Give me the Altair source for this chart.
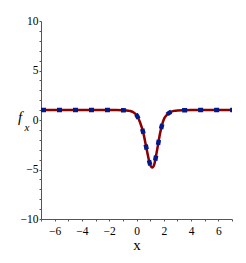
import altair as alt
import pandas as pd

xs = [-7, -6, -5, -4, -3, -2, -1.5, -1, -0.75, -0.5, -0.25, 0, 0.25, 0.5, 0.75,
      1.0, 1.15, 1.3, 1.5, 1.75, 2.0, 2.25, 2.5, 2.75, 3, 3.5, 4, 5, 6, 7]
fs = [1, 1, 1, 1, 1, 1, 1, 0.99, 0.97, 0.92, 0.8, 0.5, -0.2, -1.3, -3.0,
      -4.5, -4.8, -4.5, -3.1, -1.2, 0.05, 0.55, 0.8, 0.92, 0.97, 0.99, 1, 1, 1, 1]

x_ticks = list(range(-7, 8))
y_ticks = list(range(-10, 11))

df = pd.DataFrame({"x": xs, "f": fs})

xscale = alt.Scale(domain=[-7, 7], nice=False, zero=False)
yscale = alt.Scale(domain=[-10, 10], nice=False, zero=False)

axis_common = dict(
    grid=False, domainColor="#555555", tickColor="#555555", labelColor="black",
    labelFont="Liberation Serif", labelFontSize=11.5, titleFont="Liberation Serif",
    titleFontSize=15, titleFontWeight="normal", titleColor="black",
    labelOverlap=False, labelFlush=False, tickSize=2,
)

xaxis = alt.Axis(
    values=x_ticks, title="x", labelExpr="abs(datum.value) % 2 == 0 ? datum.label : ''",
    labelPadding=4, titlePadding=1, **axis_common,
)
yaxis = alt.Axis(
    values=y_ticks, title=None, labelExpr="abs(datum.value) % 5 == 0 ? datum.label : ''",
    labelPadding=1, **axis_common,
)

base = alt.Chart(df)
red = base.mark_line(color="#8B0000", strokeWidth=2.5, interpolate="monotone").encode(
    x=alt.X("x:Q", scale=xscale, axis=xaxis),
    y=alt.Y("f:Q", scale=yscale, axis=yaxis),
)
blue = base.mark_line(color="#00198C", strokeWidth=4.5, strokeDash=[5, 11],
                      interpolate="monotone").encode(
    x=alt.X("x:Q", scale=xscale, axis=xaxis),
    y=alt.Y("f:Q", scale=yscale, axis=yaxis),
)
ftxt = alt.Chart(pd.DataFrame({"t": ["f"]})).mark_text(
    font="Liberation Serif", fontSize=15, fontStyle="italic", color="black"
).encode(x=alt.value(-21), y=alt.value(96), text="t:N")
subtxt = alt.Chart(pd.DataFrame({"t": ["x"]})).mark_text(
    font="Liberation Serif", fontSize=11, fontStyle="italic", color="black"
).encode(x=alt.value(-14), y=alt.value(107), text="t:N")

chart = alt.layer(red, blue, ftxt, subtxt).properties(
    width=191, height=198,
    autosize=alt.AutoSizeParams(type="none"),
    padding={"left": 33, "top": 13, "right": 6, "bottom": 42},
).configure_view(stroke=None)

chart.save("out.html", embed_options={"renderer": "svg", "actions": False})
